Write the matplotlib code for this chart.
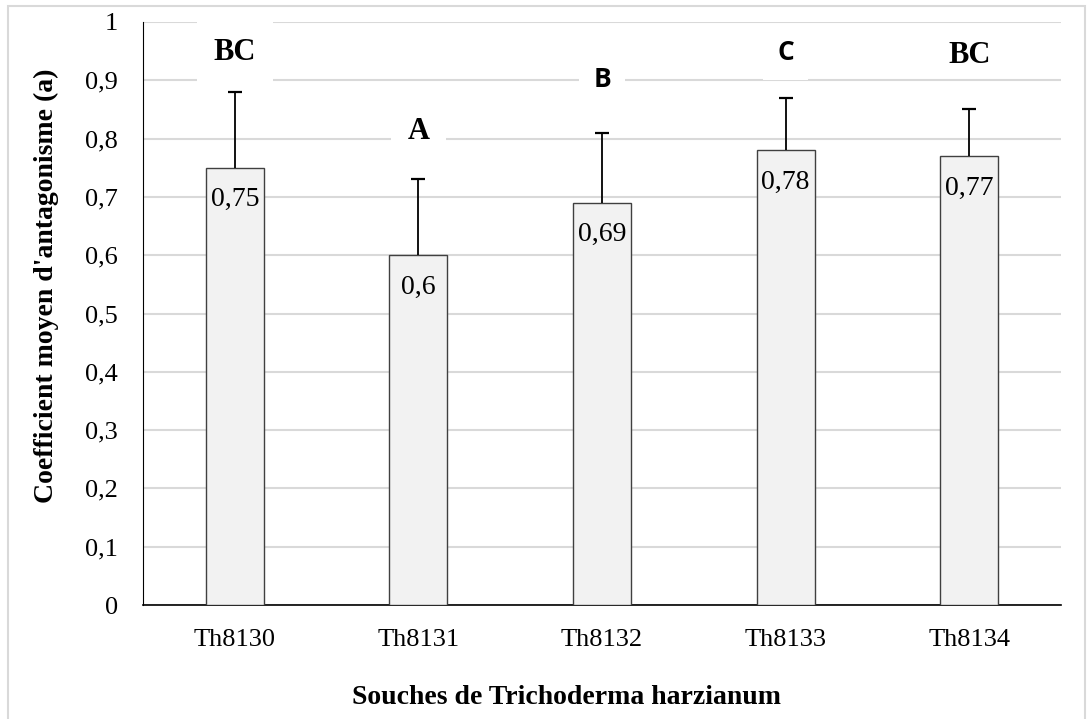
"""
Coefficient moyen d'antagonisme des souches de Trichoderma harzianum
"""
import matplotlib
matplotlib.use("Agg")
import matplotlib.pyplot as plt
import matplotlib.ticker as ticker
from matplotlib.patches import Rectangle
import numpy as np

# données
souches = ["Th8130", "Th8131", "Th8132", "Th8133", "Th8134"]
moyennes = [0.75, 0.60, 0.69, 0.78, 0.77]
erreurs = [0.13, 0.13, 0.12, 0.09, 0.08]
groupes = ["BC", "A", "B", "C", "BC"]
groupes_y = [0.948, 0.813, 0.902, 0.948, 0.943]
groupes_serif = [True, True, False, False, True]
groupes_cadre = [True, True, True, True, False]

serif = ["Liberation Serif", "DejaVu Serif"]
sans = ["Open Sans", "Liberation Sans", "DejaVu Sans"]


def fmt_virgule(val, _=None):
    # format français : virgule décimale, entiers sans décimale
    if abs(val - round(val)) < 1e-9:
        return f"{int(round(val))}"
    return f"{val:g}".replace(".", ",")


fig = plt.figure(figsize=(10.92, 7.19), dpi=100)
ax = fig.add_axes([143 / 1092, 1 - 605 / 719, 918 / 1092, 583 / 719])

# cadre extérieur
fig.patches.append(Rectangle((8 / 1092, -0.01), 1077 / 1092, 1 - 6 / 719 + 0.01,
                             transform=fig.transFigure, fill=False,
                             edgecolor="#d9d9d9", linewidth=1.5))

x = np.arange(len(souches))
hauts = np.array(moyennes) + np.array(erreurs)
ax.bar(x, moyennes, width=0.315, color="#f2f2f2", edgecolor="#404040",
       linewidth=1.0, zorder=3)

# barres d'erreur (partie supérieure seulement)
ax.vlines(x, moyennes, hauts, color="black", linewidth=1.3, zorder=4)
ax.plot(x, hauts, linestyle="none", marker="_", markersize=10,
        markeredgewidth=1.6, color="black", zorder=4)

# valeurs dans les barres
for xi, m in zip(x, moyennes):
    ax.text(xi, m - 0.055, fmt_virgule(m), ha="center", va="center",
            fontsize=20, family=serif, zorder=5)

# lettres de groupes
for xi, g, gy, s, c in zip(x, groupes, groupes_y, groupes_serif, groupes_cadre):
    boite = dict(boxstyle="square,pad=0.55", facecolor="white", edgecolor="none") if c else None
    ax.text(xi, gy, g, ha="center", va="center", fontsize=22 if s else 19,
            fontweight="bold", family=serif if s else sans, zorder=6, bbox=boite)

ax.set_xlim(-0.5, 4.5)
ax.set_ylim(0, 1)
ax.set_yticks(np.arange(0, 1.01, 0.1))
ax.yaxis.set_major_formatter(ticker.FuncFormatter(fmt_virgule))
ax.set_xticks(x)
ax.set_xticklabels(souches)
ax.tick_params(axis="both", length=0, labelsize=19)
ax.tick_params(axis="x", pad=17)
ax.tick_params(axis="y", pad=18)
for lab in ax.get_xticklabels() + ax.get_yticklabels():
    lab.set_family(serif)

ax.grid(True, axis="y", color="#d9d9d9", linewidth=1.5, zorder=0)
ax.set_axisbelow(True)
for side in ["top", "right"]:
    ax.spines[side].set_visible(False)
ax.spines["left"].set_color("black")
ax.spines["bottom"].set_color("black")
ax.spines["bottom"].set_linewidth(1.2)

fig.text(567 / 1092, 1 - 697 / 719, "Souches de Trichoderma harzianum",
         ha="center", va="center", fontsize=20, fontweight="bold", family=serif)
fig.text(46 / 1092, 1 - 286 / 719, "Coefficient moyen d'antagonisme (a)",
         ha="center", va="center", rotation=90, fontsize=20, fontweight="bold",
         family=serif)

fig.savefig("out.png", dpi=100)
